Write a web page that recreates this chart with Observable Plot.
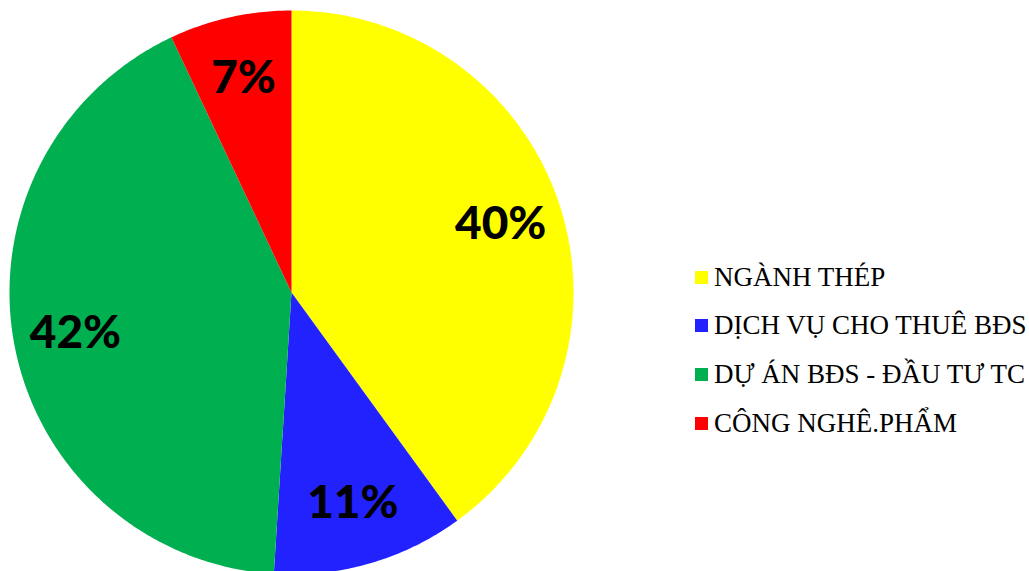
<!DOCTYPE html>
<html><head><meta charset="utf-8">
<script src="https://cdn.jsdelivr.net/npm/d3@7"></script>
<script src="https://cdn.jsdelivr.net/npm/@observablehq/plot@0.6"></script>
<style>
body{margin:0;background:#fff;}
#wrap{position:relative;width:1029px;height:571px;overflow:hidden}
#legend{position:absolute;left:695px;top:253px;font-family:"Liberation Serif","Times New Roman",serif;font-size:27px;color:#000}
.item{display:flex;align-items:center;height:48.6px;white-space:nowrap}
.sw{width:13px;height:13px;margin-right:6px;flex:none}
</style></head><body><div id="wrap"></div>
<script>
const categories = ["NGÀNH THÉP","DỊCH VỤ CHO THUÊ BĐS","DỰ ÁN BĐS - ĐẦU TƯ TC","CÔNG NGHÊ.PHẨM"];
const values = [40, 11, 42, 7];
const colors = ["#FFFF00","#2222FF","#00B050","#FF0000"];
const labels = values.map(v => v + "%");

const arcs = d3.pie().sort(null).value(d => d)(values);
const pts = [];
arcs.forEach((a, i) => {
  const n = Math.max(2, Math.ceil((a.endAngle - a.startAngle) / 0.01));
  pts.push({cat: categories[i], x: 0, y: 0});
  for (let k = 0; k <= n; k++) {
    const t = a.startAngle + (a.endAngle - a.startAngle) * k / n;
    pts.push({cat: categories[i], x: Math.sin(t), y: Math.cos(t)});
  }
});
const labelPts = arcs.map((a, i) => {
  const t = (a.startAngle + a.endAngle) / 2;
  return {label: labels[i], x: 0.78 * Math.sin(t), y: 0.78 * Math.cos(t)};
});

const chart = Plot.plot({
  width: 1029, height: 571,
  x: {domain: [-1, 1], range: [9, 573], axis: null},
  y: {domain: [-1, 1], range: [574, 10], axis: null},
  color: {domain: categories, range: colors},
  marks: [
    Plot.line(pts, {x: "x", y: "y", z: "cat", fill: "cat", stroke: "none", curve: "linear-closed"}),
    Plot.text(labelPts, {x: "x", y: "y", text: "label", fontSize: 46, fontWeight: 900, fontFamily: "Lato", fill: "black"})
  ]
});
const wrap = document.getElementById("wrap");
wrap.appendChild(chart);

const color = chart.scale("color");
const legend = document.createElement("div");
legend.id = "legend";
categories.forEach((c, i) => {
  const row = document.createElement("div");
  row.className = "item";
  const sw = document.createElement("span");
  sw.className = "sw";
  sw.style.background = color.range[i];
  const tx = document.createElement("span");
  tx.textContent = c;
  row.appendChild(sw); row.appendChild(tx);
  legend.appendChild(row);
});
wrap.appendChild(legend);
</script></body></html>
